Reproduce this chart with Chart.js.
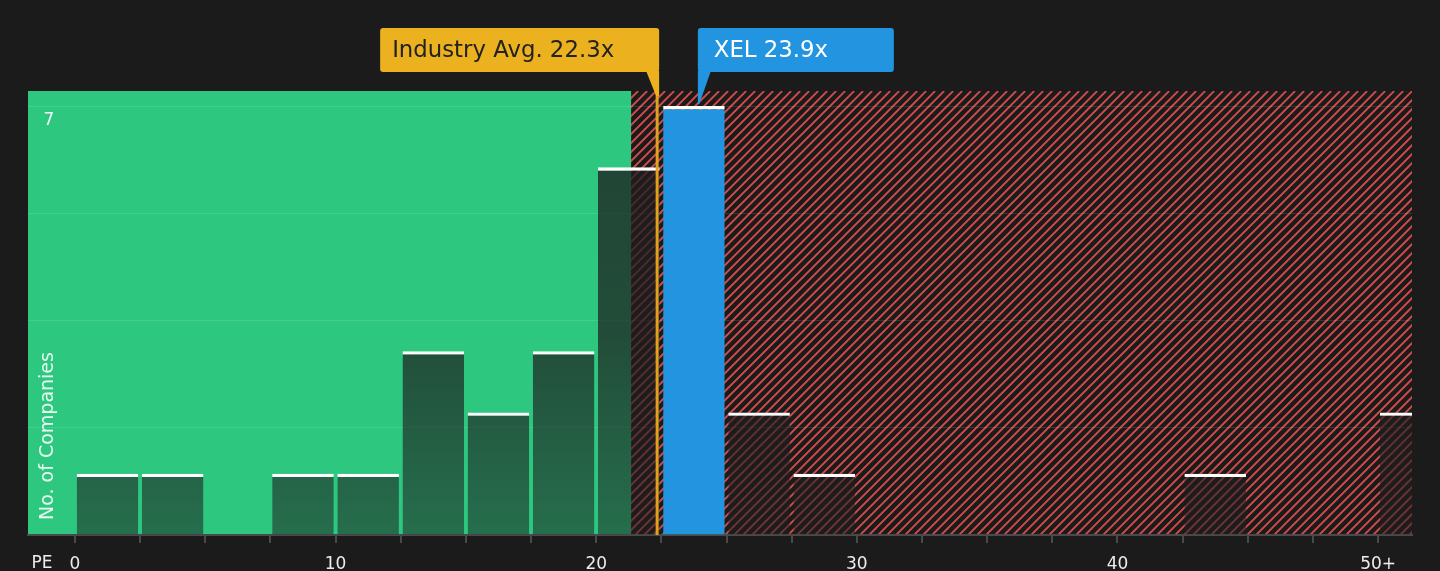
<!DOCTYPE html>
<html>
<head>
<meta charset="utf-8">
<script src="https://cdn.jsdelivr.net/npm/chart.js@4.4.1/dist/chart.umd.min.js"></script>
<style>
  html, body { margin: 0; padding: 0; background: #1b1b1b; }
  #wrap { width: 1440px; height: 571px; position: relative; }
</style>
</head>
<body>
<div id="wrap"><canvas id="c"></canvas></div>
<script>
// ---- data ----
const binStarts = [0, 2.5, 5, 7.5, 10, 12.5, 15, 17.5, 20, 22.5, 25, 27.5, 30, 32.5, 35, 37.5, 40, 42.5, 45, 47.5, 50];
const counts    = [1, 1,   0, 1,   1,  3,    2,  3,    6,  7,    2,  1,    0,  0,    0,  0,    0,  1,    0,  0,    2];
const binWidth = 2.5;
const xelBinIndex = 9;
const xelPE = 23.9;
const industryAvgPE = 22.3;
const fairValueEnd = 21.34;
const xMin = -1.8, xMax = 51.3;
const yMax = 7.245;
const tickValues = [0, 10, 20, 30, 40, 50];
const tickLabels = ['0', '10', '20', '30', '40', '50+'];
const yLabelValues = [7];
const industryLabel = 'Industry Avg. 22.3x';
const xelLabel = 'XEL 23.9x';
const axisTitle = 'No. of Companies';
const xAxisTitle = 'PE';

const FONT = '"DejaVu Sans", sans-serif';
const GREEN = '#2dc77f';
const RED = '#d24c4c';
const BLUE = '#2394df';
const GOLD = '#ecb11f';

const points = binStarts.map((s, i) => ({ x: s + binWidth / 2, y: counts[i] }));

function barFill(ctx) {
  if (ctx.dataIndex === xelBinIndex) return BLUE;
  const area = ctx.chart.chartArea;
  if (!area) return 'rgba(28,30,30,0.65)';
  const g = ctx.chart.ctx.createLinearGradient(0, area.top, 0, area.bottom);
  g.addColorStop(0, 'rgba(30,29,30,0.78)');
  g.addColorStop(0.55, 'rgba(30,29,30,0.72)');
  g.addColorStop(1, 'rgba(30,29,30,0.52)');
  return g;
}

const regions = {
  id: 'regions',
  beforeDraw(chart) {
    const { ctx, chartArea: a, scales: { x } } = chart;
    ctx.save();
    ctx.fillStyle = '#1b1b1b';
    ctx.fillRect(0, 0, chart.width, chart.height);
    const gEnd = x.getPixelForValue(fairValueEnd);
    ctx.fillStyle = GREEN;
    ctx.fillRect(a.left, a.top, gEnd - a.left, a.bottom - a.top);
    // hatch
    ctx.beginPath();
    ctx.rect(gEnd, a.top, a.right - gEnd, a.bottom - a.top);
    ctx.clip();
    ctx.strokeStyle = RED;
    ctx.lineWidth = 1.8;
    const h = a.bottom - a.top;
    for (let sx = gEnd - h - 20; sx < a.right + 20; sx += 9) {
      ctx.beginPath();
      ctx.moveTo(sx, a.bottom);
      ctx.lineTo(sx + h, a.top);
      ctx.stroke();
    }
    ctx.restore();
  },
  afterDraw(chart) {
    const { ctx, chartArea: a, scales: { x, y } } = chart;
    ctx.save();
    // y labels
    ctx.fillStyle = 'rgba(255,255,255,0.92)';
    ctx.font = '17px ' + FONT;
    ctx.textAlign = 'center';
    ctx.textBaseline = 'middle';
    yLabelValues.forEach(v => ctx.fillText(String(v), a.left + 21, y.getPixelForValue(v) + 15));
    // y title
    ctx.save();
    ctx.translate(a.left + 20, a.bottom - 15);
    ctx.rotate(-Math.PI / 2);
    ctx.textAlign = 'left';
    ctx.font = '19px ' + FONT;
    ctx.fillStyle = 'rgba(255,255,255,0.88)';
    ctx.fillText(axisTitle, 0, 0);
    ctx.restore();
    // x title
    ctx.font = '17px ' + FONT;
    ctx.fillStyle = '#ededed';
    ctx.textAlign = 'center';
    ctx.fillText(xAxisTitle, 42, 564);

    // industry average line + label
    const ax = x.getPixelForValue(industryAvgPE);
    ctx.strokeStyle = '#e0a11c';
    ctx.lineWidth = 3;
    ctx.beginPath();
    ctx.moveTo(ax + 1, 90);
    ctx.lineTo(ax + 1, a.bottom);
    ctx.stroke();
    const r = 3;
    function box(x0, y0, w, hh, col) {
      ctx.fillStyle = col;
      ctx.beginPath();
      ctx.roundRect(x0, y0, w, hh, r);
      ctx.fill();
    }
    const iw = 279;
    const iRight = ax + 3;
    box(iRight - iw, 28, iw, 44, GOLD);
    ctx.beginPath();
    ctx.moveTo(iRight - 13, 71);
    ctx.lineTo(iRight, 71);
    ctx.lineTo(iRight, 96);
    ctx.lineTo(iRight - 3, 96);
    ctx.closePath();
    ctx.fill();
    ctx.font = '22.8px ' + FONT;
    ctx.textAlign = 'left';
    ctx.textBaseline = 'middle';
    ctx.fillStyle = '#222222';
    ctx.fillText(industryLabel, iRight - iw + 12, 51);

    // XEL label
    const xx = x.getPixelForValue(xelPE);
    box(xx, 28, 196, 44, BLUE);
    ctx.beginPath();
    ctx.moveTo(xx, 71);
    ctx.lineTo(xx + 13, 71);
    ctx.lineTo(xx + 1.5, 104);
    ctx.lineTo(xx, 104);
    ctx.closePath();
    ctx.fill();
    ctx.fillStyle = '#ffffff';
    ctx.fillText(xelLabel, xx + 16, 51);
    ctx.restore();
  }
};

new Chart(document.getElementById('c'), {
  type: 'bar',
  data: {
    datasets: [{
      data: points,
      backgroundColor: barFill,
      borderColor: '#ffffff',
      borderWidth: { top: 3.4, left: 0, right: 0, bottom: 0 },
      borderSkipped: 'bottom',
      categoryPercentage: 1,
      barPercentage: 0.945,
      inflateAmount: 0
    }]
  },
  options: {
    responsive: true,
    maintainAspectRatio: false,
    animation: false,
    devicePixelRatio: 1,
    layout: { padding: { left: 28, right: 28, top: 91, bottom: 0 } },
    plugins: { legend: { display: false }, tooltip: { enabled: false } },
    scales: {
      x: {
        type: 'linear',
        offset: false,
        min: xMin,
        max: xMax,
        afterFit(axis) { axis.height = 36; },
        border: { display: true, color: '#4a4a4a', width: 2 },
        grid: { offset: false, drawOnChartArea: false, drawTicks: true, tickLength: 8, color: '#4a4a4a', lineWidth: 2 },
        ticks: {
          stepSize: binWidth,
          includeBounds: false,
          autoSkip: false,
          maxRotation: 0,
          padding: 11,
          color: '#ededed',
          font: { family: FONT, size: 17 },
          callback(v) {
            const i = tickValues.indexOf(v);
            return i >= 0 ? tickLabels[i] : '';
          }
        }
      },
      y: {
        min: 0,
        max: yMax,
        afterFit(axis) { axis.width = 0; },
        border: { display: false },
        grid: { color: 'rgba(255,255,255,0.11)', lineWidth: 1, drawTicks: false },
        ticks: { display: false, stepSize: 1.75, includeBounds: false }
      }
    }
  },
  plugins: [regions]
});
</script>
</body>
</html>
